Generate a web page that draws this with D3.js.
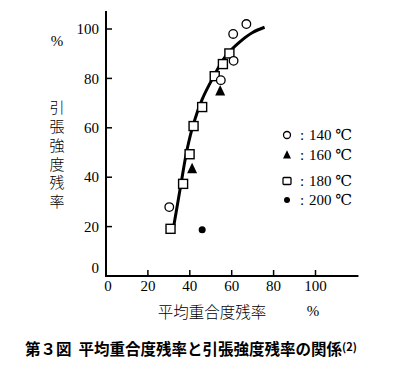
<!DOCTYPE html>
<html><head><meta charset="utf-8">
<script src="https://cdn.jsdelivr.net/npm/d3@7"></script>
<style>
body{margin:0;background:#fff;}
svg{display:block;}
</style></head>
<body>
<svg id="c" width="402" height="365"></svg>
<script>
// ---- data ----
const xTicks = [0, 20, 40, 60, 80, 100];
const yTicks = [0, 20, 40, 60, 80, 100];
const s140 = [[30.2, 27.9], [54.8, 79.3], [60.9, 87.1], [60.7, 98], [67, 102]];
const s160 = [[41.1, 43.4], [54.5, 74.9]];
const s180 = [[30.8, 19.1], [36.8, 37.3], [39.9, 49.3], [41.8, 60.7], [45.9, 68.4], [51.9, 80.9], [55.8, 85.8], [58.9, 90.1]];
const s200 = [[45.9, 18.7]];
const curve = [[32.3, 20], [35.8, 37.3], [38.7, 51.2], [41.9, 62], [45.9, 71.5], [50.7, 79.7], [57.2, 89.1], [63.6, 94.6], [70, 98.6], [75.7, 100.7]];
const legendLabels = ["140 ℃", "160 ℃", "180 ℃", "200 ℃"];
const yTitle = "引張強度残率";
const xTitle = "平均重合度残率";
const caption = "第３図  平均重合度残率と引張強度残率の関係";

const svg = d3.select("#c");
const x = d3.scaleLinear().domain([0, 100]).range([106, 315.5]);
const y = d3.scaleLinear().domain([0, 100]).range([276, 29]);
const serif = "'Liberation Serif', 'DejaVu Serif', serif";
const cjk = "'Noto Sans CJK JP', sans-serif";

// axes
svg.append("line").attr("x1", x(0)).attr("x2", x(0)).attr("y1", 11).attr("y2", y(0) + 1)
  .attr("stroke", "#000").attr("stroke-width", 2);
svg.append("line").attr("x1", x(0) - 1).attr("x2", x(120.5)).attr("y1", y(0)).attr("y2", y(0))
  .attr("stroke", "#000").attr("stroke-width", 2);

// y ticks (inward)
svg.selectAll(".yt").data(yTicks.filter(d => d > 0)).enter().append("line")
  .attr("x1", x(0)).attr("x2", x(0) + 6).attr("y1", d => y(d)).attr("y2", d => y(d))
  .attr("stroke", "#000").attr("stroke-width", 1.5);
svg.selectAll(".yl").data(yTicks).enter().append("text")
  .attr("x", x(0) - 7).attr("y", d => d === 0 ? y(d) - 8 : y(d))
  .attr("dy", "0.35em").attr("text-anchor", "end")
  .attr("font-family", serif).attr("font-size", 15).text(d => d);

// x ticks (inward)
svg.selectAll(".xt").data(xTicks.filter(d => d > 0)).enter().append("line")
  .attr("x1", d => x(d)).attr("x2", d => x(d)).attr("y1", y(0)).attr("y2", y(0) - 6)
  .attr("stroke", "#000").attr("stroke-width", 1.5);
svg.selectAll(".xl").data(xTicks).enter().append("text")
  .attr("x", d => x(d) + (d === 0 ? 2 : 0)).attr("y", 291).attr("text-anchor", "middle")
  .attr("font-family", serif).attr("font-size", 15).text(d => d);

// curve
svg.append("path").datum(curve)
  .attr("d", d3.line().x(d => x(d[0])).y(d => y(d[1])).curve(d3.curveCatmullRom))
  .attr("fill", "none").attr("stroke", "#000").attr("stroke-width", 3);

// markers
const tri = (cx, cy, s) => `M${cx},${cy - s * 0.6}L${cx + s / 2},${cy + s * 0.45}L${cx - s / 2},${cy + s * 0.45}Z`;
svg.selectAll(".m180").data(s180).enter().append("rect")
  .attr("x", d => x(d[0]) - 4.5).attr("y", d => y(d[1]) - 4.5).attr("width", 9).attr("height", 9)
  .attr("fill", "#fff").attr("stroke", "#000").attr("stroke-width", 1.4);
svg.selectAll(".m140").data(s140).enter().append("circle")
  .attr("cx", d => x(d[0])).attr("cy", d => y(d[1])).attr("r", 4.3)
  .attr("fill", "#fff").attr("stroke", "#000").attr("stroke-width", 1.3);
svg.selectAll(".m160").data(s160).enter().append("path")
  .attr("d", d => tri(x(d[0]), y(d[1]), 10)).attr("fill", "#000");
svg.selectAll(".m200").data(s200).enter().append("circle")
  .attr("cx", d => x(d[0])).attr("cy", d => y(d[1])).attr("r", 3.5).attr("fill", "#000");

// legend
const ly = [135, 155, 181, 200];
const lx = 287;
const lg = svg.append("g");
lg.append("circle").attr("cx", lx).attr("cy", ly[0]).attr("r", 3.5)
  .attr("fill", "#fff").attr("stroke", "#000").attr("stroke-width", 1.3);
lg.append("path").attr("d", tri(lx, ly[1], 8)).attr("fill", "#000");
lg.append("rect").attr("x", lx - 4).attr("y", ly[2] - 3.5).attr("width", 8).attr("height", 7).attr("rx", 1)
  .attr("fill", "#fff").attr("stroke", "#000").attr("stroke-width", 1.3);
lg.append("circle").attr("cx", lx).attr("cy", ly[3]).attr("r", 3).attr("fill", "#000");
lg.selectAll(".lc").data(legendLabels).enter().append("text")
  .attr("x", 300).attr("y", (d, i) => ly[i]).attr("dy", "0.35em")
  .attr("font-family", serif).attr("font-size", 15).text(":");
lg.selectAll(".lt").data(legendLabels).enter().append("text")
  .attr("x", 309).attr("y", (d, i) => ly[i]).attr("dy", "0.35em")
  .attr("font-family", serif).attr("font-size", 15).text(d => d);

// y title (vertical)
svg.append("text").attr("x", 57).attr("y", 41).attr("dy", "0.35em").attr("text-anchor", "middle")
  .attr("font-family", serif).attr("font-size", 15).text("%");
svg.append("text").attr("x", 57).attr("y", 100)
  .style("writing-mode", "vertical-rl").style("letter-spacing", "3.8px")
  .attr("font-family", cjk).attr("font-weight", 300).attr("font-size", 15).text(yTitle);

// x title
svg.append("text").attr("x", 212).attr("y", 313).attr("dy", "0.35em").attr("text-anchor", "middle")
  .attr("font-family", cjk).attr("font-weight", 300).attr("font-size", 15.5).text(xTitle);
svg.append("text").attr("x", 313).attr("y", 311).attr("dy", "0.35em").attr("text-anchor", "middle")
  .attr("font-family", serif).attr("font-size", 15).text("%");

// caption
const cap = svg.append("text").attr("x", 25).attr("y", 350).attr("dy", "0.35em")
  .attr("font-family", cjk).attr("font-weight", 700).attr("font-size", 15.5)
  .style("white-space", "pre");
cap.append("tspan").text(caption);
cap.append("tspan").attr("dy", "-0.4em").attr("font-size", 11).text("(2)");
</script>
</body></html>
